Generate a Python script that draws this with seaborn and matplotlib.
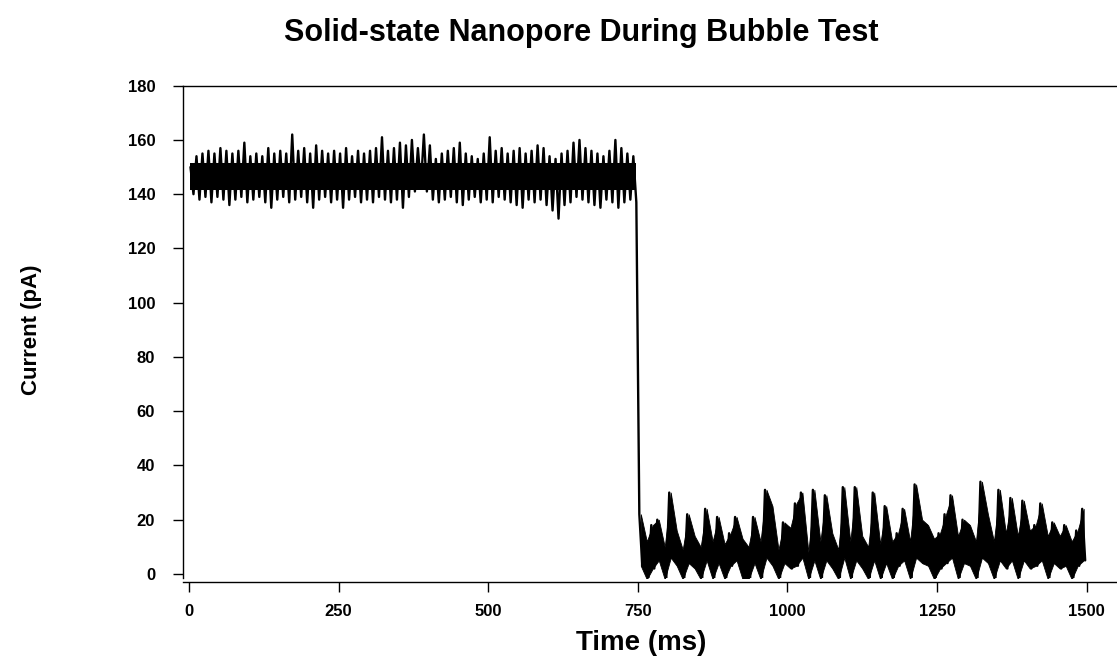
import matplotlib
matplotlib.use("Agg")
import matplotlib.pyplot as plt
import numpy as np
import pandas as pd
import seaborn as sns

# ---- data (per 10 ms bin: peak and trough current, pA) ----
bin_start_open = list(range(0, 750, 10))          # open pore, 0-750 ms
hi_open = [150, 154, 155, 156, 155, 157, 156, 155, 156, 159,
           154, 155, 154, 157, 155, 156, 155, 162, 156, 157,
           155, 158, 156, 155, 156, 155, 157, 154, 156, 155,
           156, 157, 161, 156, 157, 159, 158, 160, 157, 162,
           158, 153, 155, 156, 157, 159, 155, 154, 153, 155,
           161, 156, 157, 155, 156, 157, 155, 156, 158, 157,
           154, 153, 155, 156, 159, 160, 157, 156, 155, 154,
           156, 160, 157, 155, 154]
lo_open = [140, 138, 139, 137, 139, 138, 136, 138, 139, 137,
           138, 139, 137, 135, 138, 139, 137, 138, 139, 137,
           135, 138, 139, 137, 138, 135, 138, 139, 137, 138,
           137, 139, 138, 137, 138, 135, 139, 141, 143, 141,
           138, 137, 138, 139, 137, 136, 138, 139, 137, 138,
           137, 139, 138, 137, 136, 135, 138, 137, 138, 136,
           134, 131, 136, 137, 139, 138, 137, 136, 135, 138,
           137, 135, 137, 138, 137]
# solid core of the open-pore band (always black in the picture)
core_lo_open = 141.5
core_hi_open = 151.5

bin_start_blocked = list(range(750, 1500, 10))    # bubble blocked, 750-1500 ms
hi_blocked = [22, 12, 18, 20, 10, 30, 16, 9, 22, 14,
              10, 24, 12, 21, 11, 15, 21, 13, 10, 21,
              12, 31, 25, 9, 19, 17, 26, 30, 8, 31,
              12, 29, 15, 9, 32, 12, 32, 14, 10, 30,
              11, 25, 12, 15, 24, 12, 33, 20, 18, 13,
              15, 22, 29, 14, 20, 18, 12, 34, 22, 12,
              31, 15, 28, 14, 27, 16, 18, 26, 14, 19,
              14, 18, 12, 16, 24]
lo_blocked = [3, -2, 2, 5, -2, 6, 3, -2, 4, 2,
              -2, 5, -2, 4, -2, 3, 5, -2, -2, 4,
              -2, 6, 3, -2, 4, 2, 3, 6, -2, 5,
              -2, 5, 2, -2, 6, -2, 5, 2, -2, 5,
              -2, 4, -2, 3, 5, -2, 6, 4, 3, -2,
              2, 4, 6, -2, 4, 3, -2, 6, 4, -2,
              5, 2, 5, -2, 5, 2, 3, 5, -2, 4,
              2, 3, -2, 3, 5]

x_ticks = [0, 250, 500, 750, 1000, 1250, 1500]
y_ticks = [0, 20, 40, 60, 80, 100, 120, 140, 160, 180]
title = "Solid-state Nanopore During Bubble Test"
x_label = "Time (ms)"
y_label = "Current (pA)"

# ---- build the trace: peak and trough of each bin, in time order ----
starts = bin_start_open + bin_start_blocked
his = hi_open + hi_blocked
los = lo_open + lo_blocked
times, currents = [], []
for s, h, l in zip(starts, his, los):
    times += [s + 2.5, s + 7.5]
    currents += [h, l]
df = pd.DataFrame({"time": times, "current": currents})
blocked = pd.DataFrame({"time": [s + 5 for s in bin_start_blocked],
                        "hi": hi_blocked, "lo": lo_blocked})

sns.set_style("white")
plt.rcParams["font.family"] = ["Liberation Sans", "DejaVu Sans"]

W, H = 1117, 671
fig = plt.figure(figsize=(W / 100, H / 100), dpi=100)
ax = fig.add_axes([183 / W, 1 - 578 / H, (1116 - 183) / W, (578 - 85.7) / H])

# spines first (repositioning a spine resets tick label styling)
for side in ["left", "top", "bottom"]:
    ax.spines[side].set_color("black")
    ax.spines[side].set_linewidth(1.0)
ax.spines["right"].set_visible(False)
ax.spines["bottom"].set_position(("outward", 3))

# solid parts of the noisy trace
ax.fill_between([bin_start_open[0] + 2.5, bin_start_open[-1] + 7.5],
                core_lo_open, core_hi_open, color="black", linewidth=0)
ax.fill_between(blocked["time"], blocked["lo"], blocked["hi"], color="black",
                linewidth=0.6, edgecolor="black")
sns.lineplot(data=df, x="time", y="current", ax=ax, color="black",
             linewidth=1.7, estimator=None, sort=False)

ax.set_xlim(-10, 1549)
ax.set_ylim(-1.5, 180)
ax.set_xticks(x_ticks)
ax.set_yticks(y_ticks)
ax.set_xticklabels([str(v) for v in x_ticks], fontsize=12, fontweight="bold", color="black")
ax.set_yticklabels([str(v) for v in y_ticks], fontsize=12, fontweight="bold", color="black")
ax.set_xlabel("")
ax.set_ylabel("")

ax.tick_params(axis="both", direction="out", length=7, width=1.0, color="black")
ax.tick_params(axis="y", pad=13, left=True)
ax.tick_params(axis="x", pad=9, bottom=True)

fig.text(581 / W, 1 - 33 / H, title, ha="center", va="center",
         fontsize=22, fontweight="bold", color="black")
fig.text(31 / W, 1 - 330 / H, y_label, ha="center", va="center",
         rotation=90, fontsize=16, fontweight="bold", color="black")
fig.text(641 / W, 1 - 643 / H, x_label, ha="center", va="center",
         fontsize=20, fontweight="bold", color="black")

fig.savefig("out.png", dpi=100, facecolor="white")
